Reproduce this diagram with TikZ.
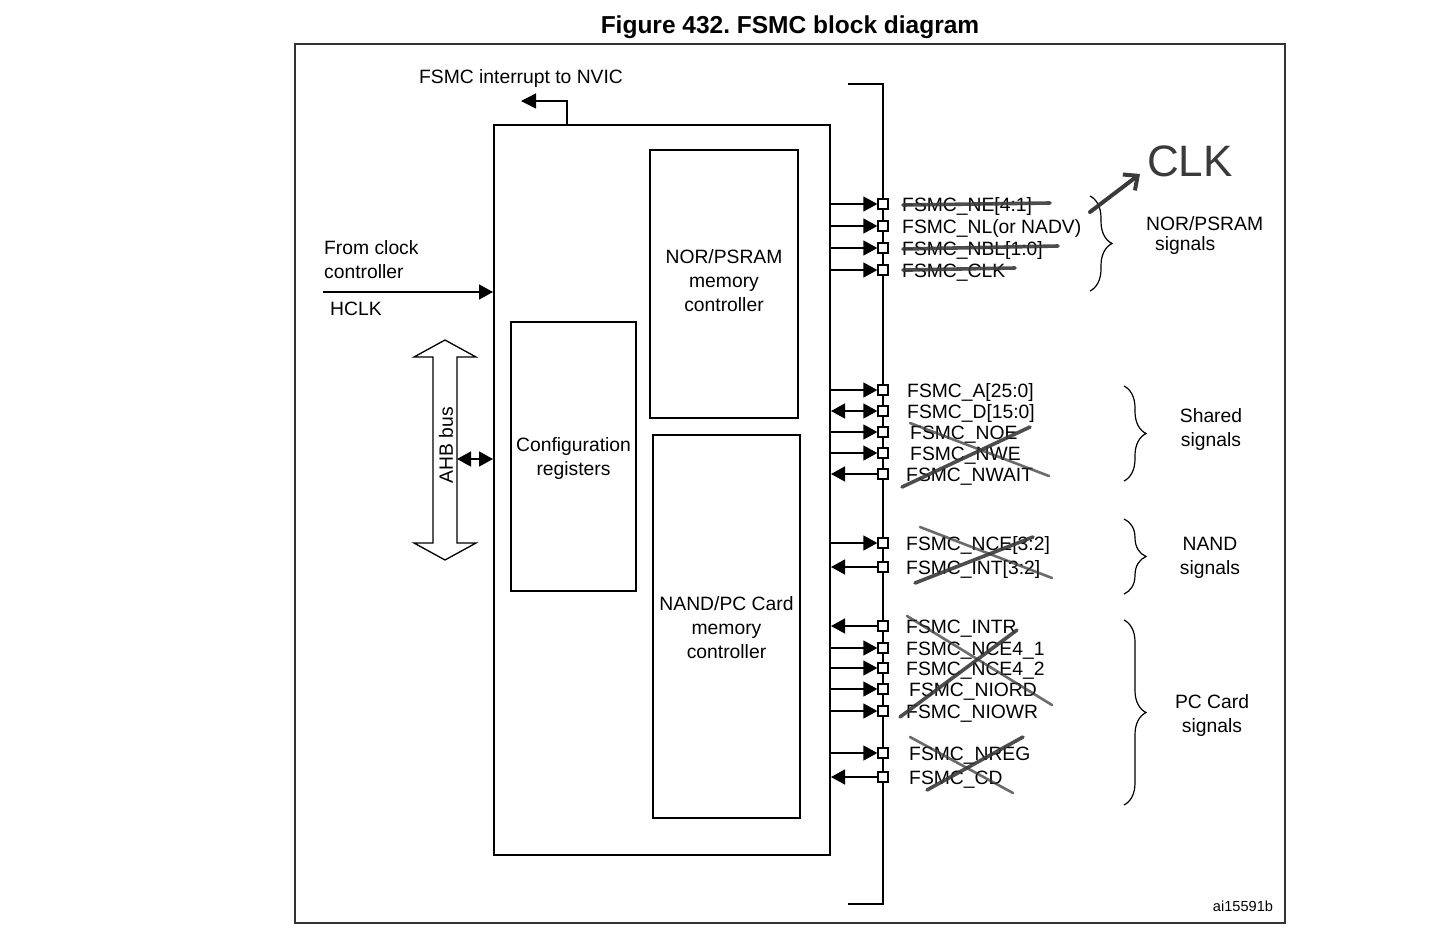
\documentclass[tikz,border=0pt]{standalone}
\usepackage{fontspec}
\setmainfont{Liberation Sans}
\usetikzlibrary{arrows.meta,decorations.pathreplacing}
\definecolor{pen}{HTML}{3A3A3A}
\begin{document}
\begin{tikzpicture}[x=1pt,y=-1pt,
  every node/.style={inner sep=0pt, font=\fontsize{19.3}{24}\selectfont},
  blk/.style={draw, line width=2pt, align=center},
  pin/.style={draw, fill=white, line width=1.3pt, minimum size=10pt, inner sep=0pt},
  tri/.tip={Triangle[length=14pt,width=15pt]},
  arr/.style={line width=1.4pt, -tri},
  larr/.style={line width=1.4pt, tri-},
  barr/.style={line width=1.4pt, tri-tri},
  sig/.style={anchor=base west},
  strike/.style={line width=3.6pt, draw=pen, line cap=round, opacity=0.9},
  brc/.style={decorate, decoration={brace, amplitude=22pt}, line width=1.2pt},
  lbl/.style={align=center}
]
\useasboundingbox (0,0) rectangle (1448,935);
\fill[white] (0,0) rectangle (1448,935);

% title and frame
\node[font=\fontsize{24.5}{28}\selectfont\bfseries] (title) at (790,27) {Figure 432.\ FSMC block diagram};
\draw[line width=1.5pt, draw=black!80] (295,44) rectangle (1285,923);
\node[font=\fontsize{14.6}{16}\selectfont] (ref) at (1243,906) {ai15591b};

% main blocks
\node[blk, minimum width=336pt, minimum height=730pt] (fsmc) at (662,490) {};
\node[blk, minimum width=148pt, minimum height=268pt] (nor) at (724,284) {};
\node[lbl] (nort) at (724,281) {NOR/PSRAM\\memory\\controller};
\node[blk, minimum width=125pt, minimum height=269pt] (cfg) at (573.5,456.5) {};
\node[lbl] (cfgt) at (573.5,459) {Configuration\\registers};
\node[blk, minimum width=147pt, minimum height=383pt] (nand) at (726.5,626.5) {};
\node[lbl] (nandt) at (726.5,627.5) {NAND/PC Card\\memory\\controller};

% interrupt
\coordinate (irqc) at (567,101);
\coordinate (irq) at (521,101);
\node (irqt) at (521,79) {FSMC interrupt to NVIC};
\draw[line width=1.4pt, -{Triangle[length=15pt,width=15pt]}] (fsmc.north -| irqc) -- (irqc) -- (irq);

% clock
\coordinate (hclk) at (323,292);
\node[align=left, anchor=west] (fromclk) at (324,260) {From clock\\controller};
\node[anchor=west] (hclkt) at (330,309) {HCLK};
\draw[arr] (hclk) -- (fsmc.west |- hclk);

% AHB bus
\draw[line width=1.3pt, fill=white] (445,340) -- (476,357) -- (457,357) -- (457,543) -- (476,543)
  -- (445,560) -- (414,543) -- (433,543) -- (433,357) -- (414,357) -- cycle;
\coordinate (ahb) at (457,459);
\node[rotate=90] (ahbt) at (446,445) {AHB bus};
\draw[barr] (ahb) -- (fsmc.west |- ahb);

% signal bus line
\coordinate (bt) at (848,84);
\coordinate (bb) at (848,904);
\draw[line width=1.5pt] (bt) -- (883,84) -- (883,904) -- (bb);

\foreach \y/\n/\d/\t/\lx in {
  204/NE/arr/{FSMC\_NE[4:1]}/902,
  226/NL/arr/{FSMC\_NL(or NADV)}/902,
  248/NBL/arr/{FSMC\_NBL[1:0]}/902,
  270/CLK/arr/{FSMC\_CLK}/902,
  390/A/arr/{FSMC\_A[25:0]}/907,
  411/D/barr/{FSMC\_D[15:0]}/907,
  432/NOE/arr/{FSMC\_NOE}/910,
  453/NWE/arr/{FSMC\_NWE}/910,
  474/NWAIT/larr/{FSMC\_NWAIT}/906,
  543/NCE/arr/{FSMC\_NCE[3:2]}/906,
  567/INT/larr/{FSMC\_INT[3:2]}/906,
  626/INTR/larr/{FSMC\_INTR}/906,
  648/NCEa/arr/{FSMC\_NCE4\_1}/906,
  668/NCEb/arr/{FSMC\_NCE4\_2}/906,
  689/NIORD/arr/{FSMC\_NIORD}/909,
  711/NIOWR/arr/{FSMC\_NIOWR}/906,
  753/NREG/arr/{FSMC\_NREG}/909,
  777/CD/larr/{FSMC\_CD}/909}{
  \node[pin] (p\n) at (883,\y) {};
  \node[sig] (l\n) at (\lx,\y+7) {\t};
  \draw[\d] (fsmc.east |- p\n) -- (p\n.west);
}

% braces and group labels
\draw[brc] (1090,196) -- (1090,291);
\draw[brc] (1124,386) -- (1124,481);
\draw[brc] (1124,519) -- (1124,594);
\draw[brc] (1124,620) -- (1124,805);
\node[anchor=west] (gnor) at (1146,224) {NOR/PSRAM};
\node[anchor=west] (gnor2) at (1155,246) {signals};
\node[lbl] (gsh) at (1211,430) {Shared\\signals};
\node[lbl] (gnand) at (1210,558) {NAND\\signals};
\node[lbl] (gpc) at (1212,715) {PC Card\\signals};

% handwritten corrections
\draw[strike] (903,205) -- (1050,203);
\draw[strike] (903,249) -- (1058,246);
\draw[strike] (903,270) -- (1015,268);
\draw[strike] (902,487) -- (1030,427);
\draw[strike, line width=2.6pt, opacity=0.75] (910,423) -- (1049,476);
\draw[strike, line width=2.6pt, opacity=0.75] (920,527) -- (1052,578);
\draw[strike] (915,583) -- (1033,537);
\draw[strike, line width=2.6pt, opacity=0.75] (907,616) -- (1052,705);
\draw[strike] (900,717) -- (1017,630);
\draw[strike, line width=2.6pt, opacity=0.75] (910,737) -- (1013,793);
\draw[strike] (927,790) -- (1023,737);
\coordinate (hs) at (1090,212);
\coordinate (he) at (1140,174);
\node[text=pen, font=\fontsize{44}{50}\selectfont] (clkhw) at (1190,161) {CLK};
\draw[line width=4pt, draw=pen, line cap=round, -{Straight Barb[length=11pt,width=20pt]}] (hs) -- (he);
\end{tikzpicture}
\end{document}
